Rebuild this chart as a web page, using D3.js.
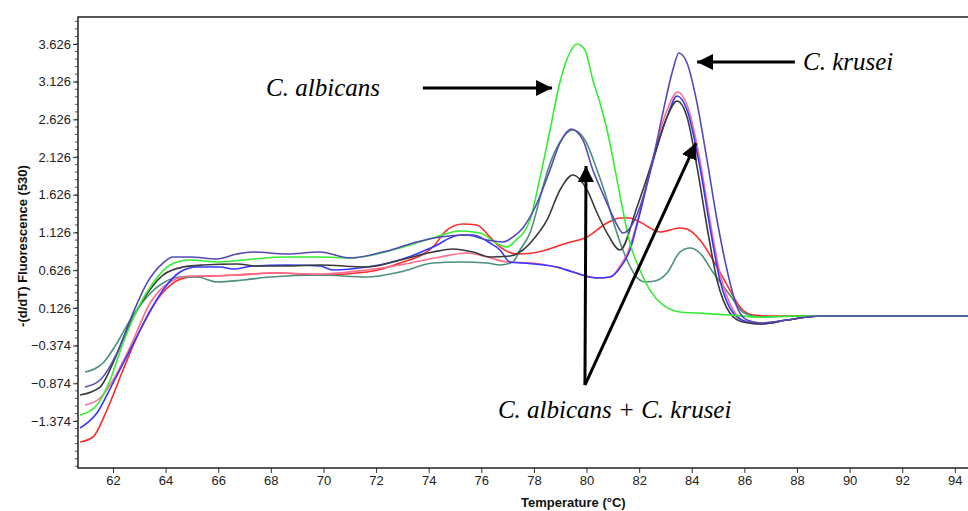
<!DOCTYPE html>
<html>
<head>
<meta charset="utf-8">
<script src="https://cdn.jsdelivr.net/npm/d3@7"></script>
<style>
  body { margin: 0; background: #fff; }
  svg { display: block; }
</style>
</head>
<body>
<div id="chart"></div>
<script>
// tick labels
const yTicks = [3.626, 3.126, 2.626, 2.126, 1.626, 1.126, 0.626, 0.126, -0.374, -0.874, -1.374];
const xTicks = [62, 64, 66, 68, 70, 72, 74, 76, 78, 80, 82, 84, 86, 88, 90, 92, 94];

// melt curves, [temperature, -(d/dT) fluorescence]
const greenAlbicans = [[60.75,-1.294],[61.39,-1.162],[61.89,-0.830],[62.38,-0.340],[62.91,0.098],[63.52,0.456],[64.17,0.695],[64.93,0.761],[66.07,0.735],[67.32,0.775],[68.61,0.801],[69.87,0.801],[71.01,0.788],[72.91,0.921],[74.16,1.053],[75.19,1.146],[75.95,1.119],[76.71,0.960],[76.98,0.934],[77.28,1.013],[77.85,1.292],[78.23,1.849],[78.61,2.485],[78.99,3.122],[79.29,3.454],[79.64,3.626],[79.94,3.546],[80.24,3.149],[80.51,2.843],[80.78,2.485],[81.00,2.114],[81.16,1.822],[81.38,1.424],[81.65,0.987],[82.03,0.629],[82.41,0.363],[82.90,0.165],[83.55,0.072],[84.20,0.058],[85.45,0.032],[86.59,0.005],[88.10,0.019],[94.50,0.019]];

const purpleMix = [[60.94,-0.923],[61.51,-0.830],[62.15,-0.472],[62.76,0.058],[63.29,0.456],[63.90,0.721],[64.28,0.801],[64.93,0.801],[65.95,0.775],[66.71,0.841],[67.32,0.867],[68.61,0.841],[69.87,0.867],[71.01,0.788],[72.26,0.867],[73.55,1.000],[74.43,1.066],[75.45,1.093],[76.22,1.027],[76.82,1.000],[77.20,1.066],[77.58,1.186],[78.12,1.517],[78.61,1.955],[78.99,2.313],[79.41,2.499],[79.86,2.353],[80.24,1.955],[80.59,1.663],[80.89,1.424],[81.16,1.226],[81.38,1.119],[81.65,1.186],[82.03,1.464],[82.52,2.088],[82.90,2.711],[83.28,3.281],[83.51,3.507],[83.82,3.374],[84.20,2.843],[84.58,2.088],[84.96,1.292],[85.34,0.629],[85.72,0.138],[86.10,-0.035],[86.59,-0.074],[87.62,-0.035],[88.38,0.005],[88.87,0.019],[94.50,0.019]];

const blackMix = [[60.75,-1.029],[61.51,-0.923],[62.00,-0.605],[62.53,-0.167],[63.14,0.231],[63.90,0.562],[64.66,0.668],[65.42,0.695],[66.71,0.708],[67.47,0.682],[68.61,0.682],[69.87,0.695],[71.65,0.668],[72.91,0.761],[74.16,0.867],[74.92,0.907],[75.68,0.867],[76.33,0.801],[77.09,0.814],[77.58,0.894],[77.96,1.027],[78.50,1.292],[78.99,1.690],[79.48,1.889],[80.02,1.690],[80.40,1.385],[80.78,1.119],[81.27,0.894],[81.92,1.464],[82.52,2.088],[83.06,2.658],[83.44,2.870],[83.82,2.658],[84.20,1.995],[84.58,1.199],[84.96,0.496],[85.45,0.058],[85.94,-0.061],[86.59,-0.087],[87.62,-0.035],[88.38,0.005],[88.87,0.019],[94.50,0.019]];

const tealMix = [[60.94,-0.724],[61.62,-0.605],[62.15,-0.340],[62.65,-0.035],[63.29,0.271],[63.90,0.456],[64.55,0.536],[65.19,0.536],[65.95,0.470],[66.94,0.496],[67.97,0.536],[69.87,0.562],[71.65,0.536],[72.91,0.602],[74.16,0.721],[75.19,0.735],[76.22,0.721],[76.71,0.695],[77.20,0.735],[77.47,0.894],[77.85,1.119],[78.34,1.730],[78.53,1.955],[78.99,2.326],[79.48,2.485],[79.94,2.353],[80.40,1.955],[80.70,1.650],[81.00,1.292],[81.27,1.000],[81.54,0.761],[81.84,0.562],[82.22,0.470],[82.60,0.483],[83.06,0.589],[83.55,0.867],[83.93,0.921],[84.31,0.854],[84.80,0.602],[85.45,0.297],[85.94,0.072],[86.59,0.005],[88.10,0.019],[94.50,0.019]];

const blueKrusei = [[60.75,-1.467],[61.39,-1.268],[62.00,-0.870],[62.65,-0.432],[63.29,0.005],[63.90,0.363],[64.55,0.602],[65.19,0.668],[66.07,0.668],[66.56,0.642],[67.32,0.682],[68.61,0.695],[69.87,0.682],[70.36,0.629],[71.65,0.668],[72.91,0.761],[74.16,0.934],[75.19,1.093],[75.68,1.093],[76.33,0.987],[76.71,0.894],[77.09,0.735],[77.58,0.721],[78.88,0.668],[79.48,0.602],[80.40,0.523],[80.89,0.536],[81.27,0.655],[81.65,0.894],[82.03,1.385],[82.52,2.061],[83.06,2.658],[83.44,2.936],[83.82,2.751],[84.31,1.995],[84.69,1.199],[85.07,0.496],[85.57,0.058],[86.10,-0.061],[86.59,-0.087],[87.62,-0.035],[88.38,0.005],[88.87,0.019],[94.50,0.019]];

const pinkKrusei = [[60.94,-1.162],[61.51,-1.069],[62.00,-0.830],[62.65,-0.393],[63.41,0.191],[64.17,0.470],[64.93,0.549],[65.69,0.549],[66.71,0.562],[67.97,0.589],[69.87,0.576],[71.65,0.629],[72.91,0.695],[74.43,0.801],[75.45,0.854],[76.22,0.801],[76.98,0.735],[77.96,0.721],[79.26,0.629],[80.13,0.536],[80.62,0.523],[80.97,0.549],[81.27,0.682],[81.57,0.867],[81.95,1.292],[82.52,2.114],[83.06,2.751],[83.47,2.989],[83.85,2.790],[84.31,2.088],[84.69,1.292],[85.07,0.589],[85.57,0.098],[86.10,-0.061],[86.59,-0.074],[87.62,-0.035],[88.38,0.005],[88.87,0.019],[94.50,0.019]];

const redCurve = [[60.75,-1.652],[61.24,-1.586],[61.77,-1.228],[62.38,-0.698],[63.03,-0.167],[63.67,0.231],[64.28,0.456],[64.93,0.536],[65.69,0.549],[66.71,0.562],[68.23,0.589],[69.87,0.562],[71.65,0.602],[72.91,0.721],[74.16,0.934],[74.69,1.159],[75.30,1.239],[75.83,1.226],[76.33,1.066],[76.71,0.934],[77.36,0.841],[77.96,0.854],[79.26,0.987],[80.02,1.066],[80.78,1.252],[81.27,1.318],[81.65,1.318],[82.03,1.265],[82.79,1.133],[83.55,1.186],[83.82,1.172],[84.31,1.027],[84.96,0.668],[85.45,0.363],[85.83,0.138],[86.33,0.032],[86.98,0.019],[94.50,0.019]];

const series = [
  { data: redCurve, color: "#ff2b2b" },
  { data: tealMix, color: "#4b8f7d" },
  { data: pinkKrusei, color: "#ff6c8c" },
  { data: blueKrusei, color: "#3636ff" },
  { data: blackMix, color: "#3a3a3a" },
  { data: greenAlbicans, color: "#33ee33" },
  { data: purpleMix, color: "#5548b8" }
];

// annotations: text anchor and arrows, in data units
const labels = [
  { text: "C. albicans", at: [67.82, 2.936] },
  { text: "C. krusei", at: [88.23, 3.281] },
  { text: "C. albicans + C. krusei", at: [76.63, -1.334] }
];
const arrows = [
  { from: [73.78, 3.042], to: [78.69, 3.042] },
  { from: [87.92, 3.387], to: [84.20, 3.387] },
  { from: [79.94, -0.897], to: [79.98, 2.008] },
  { from: [79.94, -0.897], to: [84.16, 2.313] }
];

const margin = { top: 17, right: 0, bottom: 43, left: 78 },
    width = 968 - margin.left - margin.right,
    height = 511 - margin.top - margin.bottom;

const svg = d3.select("#chart")
    .append("svg")
    .attr("width", 968)
    .attr("height", 511)
    .append("g")
    .attr("transform", `translate(${margin.left},${margin.top})`);

const x = d3.scaleLinear().domain([60.67, 94.5]).range([0, width]);
const y = d3.scaleLinear().domain([-1.997, 3.984]).range([height, 0]);

svg.append("defs").append("clipPath")
    .attr("id", "clip")
    .append("rect")
    .attr("width", width)
    .attr("height", height);

// minor y ticks
const minorY = d3.range(-1.974, 3.99, 0.1);
svg.append("g")
    .selectAll("line")
    .data(minorY)
    .join("line")
    .attr("x1", -3).attr("x2", 0)
    .attr("y1", d => y(d)).attr("y2", d => y(d))
    .attr("stroke", "#555");

// Y axis
const yAxis = svg.append("g")
    .call(d3.axisLeft(y).tickValues(yTicks).tickFormat(d3.format(".3f")).tickSize(5).tickPadding(2));
yAxis.select(".domain").remove();
yAxis.selectAll("line").attr("stroke", "#333");
yAxis.selectAll("text")
    .attr("style", "font-size: 13px; font-family: 'Liberation Sans', Arial, sans-serif")
    .attr("fill", "#222");

// X axis
const xAxis = svg.append("g")
    .attr("transform", `translate(0, ${height})`)
    .call(d3.axisBottom(x).tickValues(xTicks).tickSize(5).tickPadding(3));
xAxis.select(".domain").remove();
xAxis.selectAll("line").attr("stroke", "#333");
xAxis.selectAll("text")
    .attr("style", "font-size: 13px; font-family: 'Liberation Sans', Arial, sans-serif")
    .attr("fill", "#222");

// frame
svg.append("rect")
    .attr("x", 0).attr("y", 0)
    .attr("width", width + 10).attr("height", height)
    .attr("fill", "none")
    .attr("stroke", "#222")
    .attr("stroke-width", 1.5);

// curves
const line = d3.line()
    .x(d => x(d[0]))
    .y(d => y(d[1]))
    .curve(d3.curveMonotoneX);

svg.append("g")
    .attr("clip-path", "url(#clip)")
    .selectAll("path")
    .data(series)
    .join("path")
    .attr("d", d => line(d.data))
    .attr("fill", "none")
    .attr("stroke", d => d.color)
    .attr("stroke-width", 1.6)
    .attr("stroke-linejoin", "round");

// axis titles
svg.append("text")
    .attr("x", x(79.5))
    .attr("y", height + 39)
    .attr("text-anchor", "middle")
    .attr("style", "font-size: 13px; font-weight: bold; font-family: 'Liberation Sans', Arial, sans-serif")
    .attr("fill", "#111")
    .text("Temperature (°C)");

svg.append("text")
    .attr("transform", `translate(${22 - margin.left}, ${246 - margin.top}) rotate(-90)`)
    .attr("text-anchor", "middle")
    .attr("dy", "0.35em")
    .attr("style", "font-size: 13px; font-weight: bold; font-family: 'Liberation Sans', Arial, sans-serif")
    .attr("fill", "#111")
    .text("-(d/dT) Fluorescence (530)");

// arrows
svg.append("defs").append("marker")
    .attr("id", "head")
    .attr("viewBox", "0 0 10 10")
    .attr("refX", 10).attr("refY", 5)
    .attr("markerUnits", "userSpaceOnUse")
    .attr("markerWidth", 16).attr("markerHeight", 16)
    .attr("orient", "auto")
    .append("path")
    .attr("d", "M0,0 L10,5 L0,10 Z")
    .attr("fill", "#000");

svg.append("g")
    .selectAll("line")
    .data(arrows)
    .join("line")
    .attr("x1", d => x(d.from[0])).attr("y1", d => y(d.from[1]))
    .attr("x2", d => x(d.to[0])).attr("y2", d => y(d.to[1]))
    .attr("stroke", "#000")
    .attr("stroke-width", 3)
    .attr("marker-end", "url(#head)");

svg.append("g")
    .selectAll("text")
    .data(labels)
    .join("text")
    .attr("x", d => x(d.at[0]))
    .attr("y", d => y(d.at[1]))
    .attr("style", "font-size: 25px; font-style: italic; font-family: 'Liberation Serif', 'Times New Roman', serif")
    .attr("fill", "#000")
    .text(d => d.text);
</script>
</body>
</html>
